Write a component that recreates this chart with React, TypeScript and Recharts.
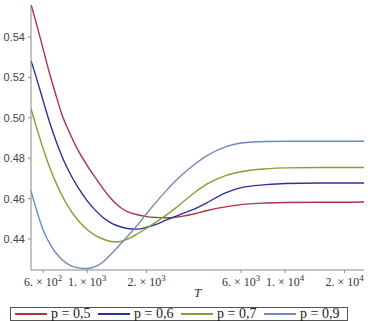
import React from 'react';
import { LineChart, Line, XAxis, YAxis } from 'recharts';

const temps = [521, 550, 600, 650, 700, 750, 800, 900, 1000, 1100, 1200, 1300, 1400, 1500, 1600, 1800, 2000, 2200, 2500, 2800, 3000, 3500, 4000, 5000, 6000, 8000, 10000, 15000, 20000, 25060];

const p05 = [0.5562, 0.5480, 0.5340, 0.5212, 0.5105, 0.5010, 0.4945, 0.4840, 0.4765, 0.4705, 0.4652, 0.4608, 0.4574, 0.4551, 0.4536, 0.4520, 0.4511, 0.4507, 0.4505, 0.4508, 0.4512, 0.4525, 0.4540, 0.4559, 0.4570, 0.4578, 0.4581, 0.4582, 0.4582, 0.4583];
const p06 = [0.5282, 0.5210, 0.5085, 0.4972, 0.4880, 0.4805, 0.4745, 0.4655, 0.4590, 0.4543, 0.4508, 0.4484, 0.4468, 0.4458, 0.4452, 0.4449, 0.4458, 0.4470, 0.4493, 0.4512, 0.4524, 0.4549, 0.4578, 0.4628, 0.4654, 0.4669, 0.4675, 0.4677, 0.4677, 0.4677];
const p07 = [0.5045, 0.4967, 0.4847, 0.4750, 0.4674, 0.4612, 0.4563, 0.4493, 0.4447, 0.4418, 0.4400, 0.4389, 0.4385, 0.4389, 0.4399, 0.4426, 0.4454, 0.4480, 0.4517, 0.4553, 0.4577, 0.4630, 0.4670, 0.4714, 0.4733, 0.4747, 0.4752, 0.4754, 0.4754, 0.4754];
const p09 = [0.4638, 0.4558, 0.4445, 0.4375, 0.4328, 0.4296, 0.4276, 0.4257, 0.4254, 0.4263, 0.4285, 0.4318, 0.4350, 0.4383, 0.4412, 0.4470, 0.4526, 0.4575, 0.4637, 0.4688, 0.4716, 0.4770, 0.4810, 0.4856, 0.4875, 0.4883, 0.4884, 0.4884, 0.4884, 0.4884];

const xTicks = [600, 1000, 2000, 6000, 10000, 20000];
const xTickMantissa = ['6', '1', '2', '6', '1', '2'];
const xTickExponent = ['2', '3', '3', '3', '4', '4'];
const yTicks = [0.44, 0.46, 0.48, 0.5, 0.52, 0.54];

const seriesNames = ['p = 0,5', 'p = 0,6', 'p = 0,7', 'p = 0,9'];
const seriesKeys = ['p05', 'p06', 'p07', 'p09'];
const seriesColors = ['#AD3442', '#2C339A', '#7DA334', '#7088C2'];

const data = temps.map((t, i) => ({ T: t, p05: p05[i], p06: p06[i], p07: p07[i], p09: p09[i] }));

const XTick = (props: any) => {
  const { x, y, payload } = props;
  const idx = xTicks.indexOf(payload.value);
  const m = idx >= 0 ? xTickMantissa[idx] : '';
  const e = idx >= 0 ? xTickExponent[idx] : '';
  return (
    <text x={x} y={y + 11} textAnchor="middle" fontFamily="'Liberation Serif', serif" fontSize={12} fill="#333">
      <tspan>{m + '. × 10'}</tspan>
      <tspan dy={-5} fontSize={9}>{e}</tspan>
    </text>
  );
};

export default function App() {
  return (
    <div style={{ position: 'absolute', left: 0, top: 0, width: 368, height: 321, background: '#fff' }}>
      <LineChart width={368} height={321} data={data} margin={{ top: 5, right: 4, bottom: 11, left: 0 }}>
        <XAxis
          dataKey="T"
          type="number"
          scale="log"
          domain={[521, 25060]}
          allowDataOverflow
          ticks={xTicks}
          tick={<XTick />}
          tickSize={3}
          height={40}
          stroke="#888"
          tickLine={{ stroke: '#888' }}
          label={{ value: 'T', position: 'insideBottom', offset: 13, style: { fontFamily: "'Liberation Serif', serif", fontStyle: 'italic', fontSize: 13, fill: '#333' } }}
        />
        <YAxis
          type="number"
          domain={[0.42465, 0.55585]}
          allowDataOverflow
          ticks={yTicks}
          tickFormatter={(v: number) => v.toFixed(2)}
          width={31}
          tickSize={3}
          tickMargin={3}
          stroke="#888"
          tick={{ fontFamily: "'Liberation Sans', Arial, sans-serif", fontSize: 11, fill: '#444' }}
        />
        {seriesKeys.map((k, i) => (
          <Line key={k} type="monotone" dataKey={k} stroke={seriesColors[i]} strokeWidth={1.4} dot={false} isAnimationActive={false} />
        ))}
      </LineChart>
      <div
        style={{
          position: 'absolute',
          left: 10,
          top: 307,
          width: 336,
          height: 12,
          border: '1px solid #555',
          boxSizing: 'content-box',
          fontFamily: "'Liberation Serif', serif",
          fontSize: 14,
          lineHeight: '12px',
          color: '#222',
        }}
      >
        {seriesNames.map((name, i) => (
          <div key={name} style={{ position: 'absolute', left: 4 + i * 83, top: 0, height: 12, display: 'flex', alignItems: 'center' }}>
            <div style={{ width: 32, height: 2, background: seriesColors[i] }} />
            <span style={{ marginLeft: 4, whiteSpace: 'nowrap', lineHeight: '12px' }}>{name}</span>
          </div>
        ))}
      </div>
    </div>
  );
}
